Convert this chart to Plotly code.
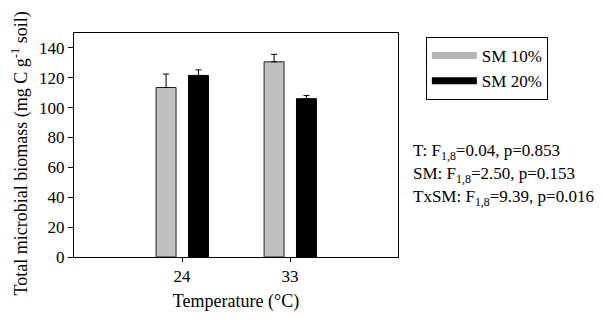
import plotly.graph_objects as go

temperatures = ["24", "33"]
sm10_values = [113.5, 130.7]
sm10_errors = [9.0, 5.0]
sm20_values = [121.6, 106.0]
sm20_errors = [3.7, 2.2]
y_ticks = [0, 20, 40, 60, 80, 100, 120, 140]
stats_lines = [
    "T: F<sub>1,8</sub>=0.04, p=0.853",
    "SM: F<sub>1,8</sub>=2.50, p=0.153",
    "TxSM: F<sub>1,8</sub>=9.39, p=0.016",
]
stats_y = [0.469, 0.366, 0.263]
y_title = "Total microbial biomass (mg C g<sup>-1</sup> soil)"
x_title = "Temperature (°C)"

FONT = "Liberation Serif"
GRAY = "#c0c0c0"

fig = go.Figure()
fig.add_trace(go.Bar(
    x=temperatures, y=sm10_values, name="SM 10%",
    marker=dict(color=GRAY, line=dict(color="#222222", width=1)),
    width=0.185, offset=-0.24, showlegend=False,
    error_y=dict(type="data", array=sm10_errors, arrayminus=[0, 0],
                 color="black", thickness=1, width=3),
))
fig.add_trace(go.Bar(
    x=temperatures, y=sm20_values, name="SM 20%",
    marker=dict(color="black", line=dict(color="black", width=1)),
    width=0.185, offset=0.06, showlegend=False,
    error_y=dict(type="data", array=sm20_errors, arrayminus=[0, 0],
                 color="black", thickness=1, width=3),
))
# legend entries (wide bar-like symbols)
fig.add_trace(go.Scatter(x=[None], y=[None], mode="lines", name="SM 10%",
                         line=dict(color="#b4b4b4", width=7)))
fig.add_trace(go.Scatter(x=[None], y=[None], mode="lines", name="SM 20%",
                         line=dict(color="black", width=7)))

for txt, yy in zip(stats_lines, stats_y):
    fig.add_annotation(
        x=1.040, y=yy, xref="paper", yref="paper",
        xanchor="left", yanchor="middle", text=txt, showarrow=False,
        font=dict(family=FONT, size=17, color="black"),
    )

# y-axis title as rotated annotation (positioned like the reference)
fig.add_annotation(
    x=-0.167, y=0.462, xref="paper", yref="paper",
    xanchor="center", yanchor="middle", text=y_title, textangle=-90,
    showarrow=False, font=dict(family=FONT, size=18, color="black"),
)

fig.update_layout(
    width=595, height=312,
    margin=dict(l=66, r=205, t=25, b=63, autoexpand=False),
    paper_bgcolor="white", plot_bgcolor="white",
    barmode="overlay",
    font=dict(family=FONT, size=17, color="black"),
    legend=dict(
        x=1.086, y=0.982, xanchor="left", yanchor="top",
        bordercolor="black", borderwidth=1, bgcolor="white",
        font=dict(family=FONT, size=17, color="black"),
        itemwidth=45, tracegroupgap=0,
    ),
    xaxis=dict(
        type="category", range=[-1, 2],
        showline=True, linecolor="black", linewidth=1, mirror=True,
        ticks="outside", ticklen=4, tickcolor="black",
        showgrid=False, zeroline=False,
        tickfont=dict(family=FONT, size=17),
        title=dict(text=x_title, font=dict(family=FONT, size=18), standoff=8),
    ),
    yaxis=dict(
        range=[0, 150], tickvals=y_ticks,
        showline=True, linecolor="black", linewidth=1, mirror=True,
        ticks="outside", ticklen=5, tickcolor="black",
        showgrid=False, zeroline=False,
        tickfont=dict(family=FONT, size=17),
    ),
)

fig.write_html("out.html")
